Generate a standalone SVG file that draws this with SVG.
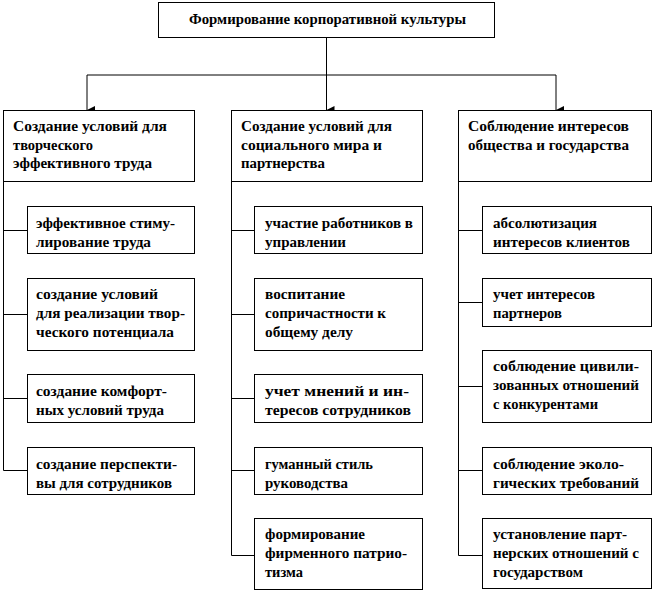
<svg xmlns="http://www.w3.org/2000/svg" width="654" height="594" viewBox="0 0 654 594">
<style>
rect{fill:#fff;stroke:#000;stroke-width:1}
text{font-family:"Liberation Serif","Times New Roman",serif;font-weight:bold;font-size:15px;fill:#000}
.t{font-size:14px}
.c line,.c path{stroke:#000;stroke-width:1;fill:none}
</style>
<defs>
<marker id="ah" viewBox="0 0 8 8" refX="4" refY="8" markerWidth="8" markerHeight="8" markerUnits="userSpaceOnUse" orient="auto-start-reverse">
<path d="M0,0 L8,0 L4,8 Z" fill="#000"/>
</marker>
</defs>
<rect width="654" height="594" style="fill:#fff;stroke:none"/>
<g class="c" id="connectors">
<line x1="326.5" y1="37" x2="326.5" y2="75"/>
<line x1="87" y1="75" x2="556" y2="75"/>
<line x1="87" y1="75" x2="87" y2="110" marker-end="url(#ah)"/>
<line x1="326.5" y1="75" x2="326.5" y2="110" marker-end="url(#ah)"/>
<line x1="556" y1="75" x2="556" y2="110" marker-end="url(#ah)"/>
<path d="M3.5,182V470.5"/>
<path d="M3.5,230.5H27M3.5,314.5H27M3.5,398.5H27M3.5,470.5H27"/>
<path d="M231.5,182V555.5"/>
<path d="M231.5,230.5H254M231.5,314.5H254M231.5,398.5H254M231.5,470.5H254M231.5,555.5H254"/>
<path d="M458.5,182V555.5"/>
<path d="M458.5,230.5H482M458.5,302.5H482M458.5,386.5H482M458.5,470.5H482M458.5,555.5H482"/>
</g>
<g id="root"><rect x="158.5" y="2.5" width="336" height="35"/><text class="t" x="189" y="24" textLength="277" lengthAdjust="spacingAndGlyphs">Формирование корпоративной культуры</text></g>
<g id="b1"><rect x="3.5" y="110.5" width="191" height="71"/><text x="13" y="131" textLength="154" lengthAdjust="spacingAndGlyphs">Создание условий для</text><text x="13" y="150" textLength="80" lengthAdjust="spacingAndGlyphs">творческого</text><text x="13" y="168" textLength="139" lengthAdjust="spacingAndGlyphs">эффективного  труда</text></g>
<g id="b2"><rect x="231.5" y="110.5" width="191" height="71"/><text x="241" y="131" textLength="151" lengthAdjust="spacingAndGlyphs">Создание условий для</text><text x="241" y="150" textLength="141" lengthAdjust="spacingAndGlyphs">социального мира и</text><text x="241" y="168" textLength="84" lengthAdjust="spacingAndGlyphs">партнерства</text></g>
<g id="b3"><rect x="458.5" y="110.5" width="193" height="71"/><text x="468" y="131" textLength="161" lengthAdjust="spacingAndGlyphs">Соблюдение интересов</text><text x="468" y="150" textLength="161" lengthAdjust="spacingAndGlyphs">общества и государства</text></g>

<g id="l1"><rect x="27.5" y="206.5" width="167" height="47"/><text x="36" y="228" textLength="139" lengthAdjust="spacingAndGlyphs">эффективное  стиму-</text><text x="36" y="247" textLength="115" lengthAdjust="spacingAndGlyphs">лирование труда</text></g>
<g id="l2"><rect x="27.5" y="278.5" width="167" height="72"/><text x="36" y="299" textLength="122" lengthAdjust="spacingAndGlyphs">создание условий</text><text x="36" y="318" textLength="149" lengthAdjust="spacingAndGlyphs">для реализации твор-</text><text x="36" y="337" textLength="138" lengthAdjust="spacingAndGlyphs">ческого  потенциала</text></g>
<g id="l3"><rect x="27.5" y="374.5" width="167" height="48"/><text x="36" y="396" textLength="131" lengthAdjust="spacingAndGlyphs">создание комфорт-</text><text x="36" y="415" textLength="128" lengthAdjust="spacingAndGlyphs">ных условий труда</text></g>
<g id="l4"><rect x="27.5" y="447.5" width="167" height="47"/><text x="36" y="469" textLength="141" lengthAdjust="spacingAndGlyphs">создание перспекти-</text><text x="36" y="488" textLength="136" lengthAdjust="spacingAndGlyphs">вы для  сотрудников</text></g>

<g id="m1"><rect x="254.5" y="206.5" width="168" height="47"/><text x="265" y="228" textLength="148" lengthAdjust="spacingAndGlyphs">участие работников в</text><text x="265" y="247" textLength="81" lengthAdjust="spacingAndGlyphs">управлении</text></g>
<g id="m2"><rect x="254.5" y="278.5" width="168" height="72"/><text x="265" y="299" textLength="80" lengthAdjust="spacingAndGlyphs">воспитание</text><text x="265" y="318" textLength="121" lengthAdjust="spacingAndGlyphs">сопричастности к</text><text x="265" y="337" textLength="88" lengthAdjust="spacingAndGlyphs">общему  делу</text></g>
<g id="m3"><rect x="254.5" y="374.5" width="168" height="48"/><text x="265" y="396" textLength="144" lengthAdjust="spacingAndGlyphs">учет мнений и ин-</text><text x="265" y="415" textLength="146" lengthAdjust="spacingAndGlyphs">тересов  сотрудников</text></g>
<g id="m4"><rect x="254.5" y="447.5" width="168" height="47"/><text x="265" y="469" textLength="108" lengthAdjust="spacingAndGlyphs">гуманный стиль</text><text x="265" y="488" textLength="83" lengthAdjust="spacingAndGlyphs">руководства</text></g>
<g id="m5"><rect x="254.5" y="518.5" width="168" height="71"/><text x="265" y="539" textLength="100" lengthAdjust="spacingAndGlyphs">формирование</text><text x="265" y="558" textLength="142" lengthAdjust="spacingAndGlyphs">фирменного патрио-</text><text x="265" y="577" textLength="38" lengthAdjust="spacingAndGlyphs">тизма</text></g>

<g id="r1"><rect x="482.5" y="206.5" width="169" height="47"/><text x="493" y="228" textLength="104" lengthAdjust="spacingAndGlyphs">абсолютизация</text><text x="493" y="247" textLength="137" lengthAdjust="spacingAndGlyphs">интересов клиентов</text></g>
<g id="r2"><rect x="482.5" y="278.5" width="169" height="48"/><text x="493" y="299" textLength="102" lengthAdjust="spacingAndGlyphs">учет интересов</text><text x="493" y="318" textLength="69" lengthAdjust="spacingAndGlyphs">партнеров</text></g>
<g id="r3"><rect x="482.5" y="350.5" width="169" height="72"/><text x="493" y="371" textLength="146" lengthAdjust="spacingAndGlyphs">соблюдение цивили-</text><text x="493" y="390" textLength="146" lengthAdjust="spacingAndGlyphs">зованных отношений</text><text x="493" y="409" textLength="105" lengthAdjust="spacingAndGlyphs">с конкурентами</text></g>
<g id="r4"><rect x="482.5" y="447.5" width="169" height="47"/><text x="493" y="469" textLength="131" lengthAdjust="spacingAndGlyphs">соблюдение эколо-</text><text x="493" y="488" textLength="146" lengthAdjust="spacingAndGlyphs">гических требований</text></g>
<g id="r5"><rect x="482.5" y="518.5" width="169" height="70"/><text x="493" y="539" textLength="134" lengthAdjust="spacingAndGlyphs">установление парт-</text><text x="493" y="558" textLength="146" lengthAdjust="spacingAndGlyphs">нерских отношений с</text><text x="493" y="577" textLength="90" lengthAdjust="spacingAndGlyphs">государством</text></g>
</svg>
